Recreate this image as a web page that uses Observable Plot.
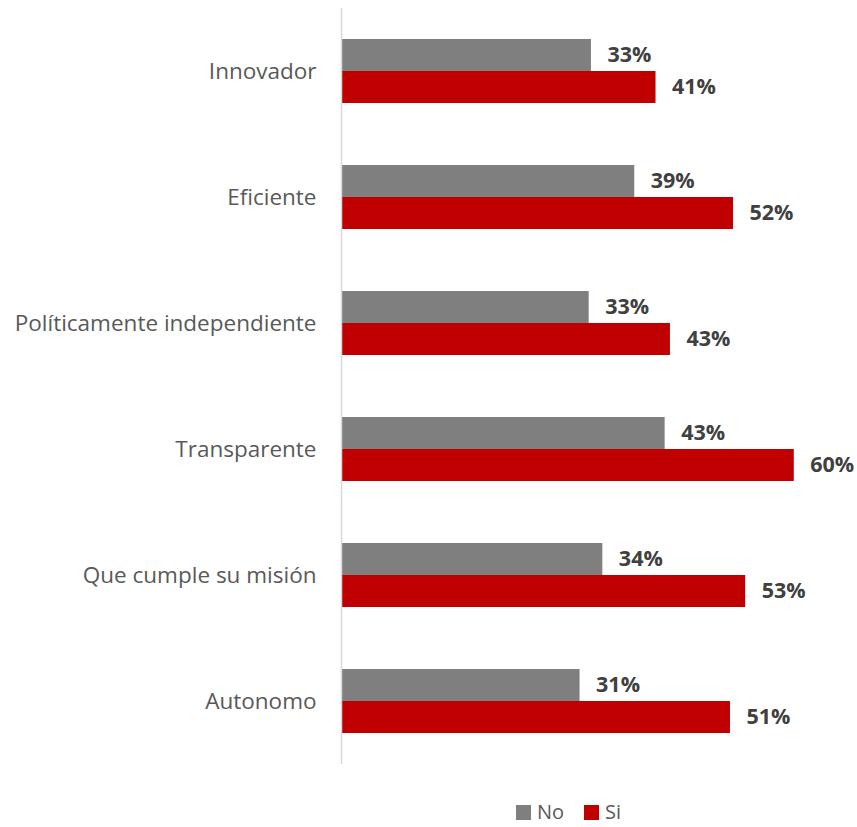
<!DOCTYPE html>
<html>
<head>
<meta charset="utf-8">
<script src="https://cdn.jsdelivr.net/npm/d3@7"></script>
<script src="https://cdn.jsdelivr.net/npm/@observablehq/plot@0.6"></script>
<style>
  body { margin: 0; background: #fff; font-family: "Open Sans", sans-serif; overflow: hidden; }
  #chart svg { display: block; }
  #legend { display: flex; justify-content: flex-start; align-items: center; font-size: 20px; line-height: 20px; height: 20px; color: #595959; margin-top: 27px; padding-left: 516px; }
  .sw { display: inline-block; width: 15px; height: 15px; margin-right: 6px; }
  .item { display: flex; align-items: center; margin-right: 20px; }
</style>
</head>
<body>
<div id="chart"></div>
<div id="legend"></div>
<script>
const categories = ["Innovador", "Eficiente", "Políticamente independiente", "Transparente", "Que cumple su misión", "Autonomo"];
const series = ["No", "Si"];
const noValues = [0.329, 0.386, 0.326, 0.426, 0.344, 0.314];
const siValues = [0.414, 0.516, 0.433, 0.596, 0.532, 0.512];
const colors = ["#7f7f7f", "#c00000"];

const data = [];
categories.forEach((c, i) => {
  data.push({category: c, series: "No", value: noValues[i]});
  data.push({category: c, series: "Si", value: siValues[i]});
});

const chart = Plot.plot({
  width: 857,
  height: 775,
  marginLeft: 341,
  marginRight: 7,
  marginTop: 7,
  marginBottom: 10,
  style: {fontFamily: "'Open Sans', sans-serif", fontSize: "22.5px", color: "#595959", overflow: "visible"},
  x: {domain: [0, 0.67], axis: null},
  y: {domain: series, axis: null, paddingInner: 0, paddingOuter: 0.9377},
  fy: {domain: categories, padding: 0, label: null, tickSize: 0, tickPadding: 25, axis: "left"},
  color: {domain: series, range: colors},
  marks: [
    Plot.barX(data, {fy: "category", y: "series", x: "value", fill: "series"}),
    Plot.text(data, {fy: "category", y: "series", x: "value", text: d => Math.round(d.value * 100) + "%", textAnchor: "start", dx: 16, fill: "#404040", fontWeight: "bold", fontSize: 21.5}),
    Plot.ruleX([0], {stroke: "#d9d9d9", strokeWidth: 1.5})
  ]
});
document.getElementById("chart").appendChild(chart);

const legend = document.getElementById("legend");
series.forEach((s, i) => {
  const item = document.createElement("span");
  item.className = "item";
  const sw = document.createElement("span");
  sw.className = "sw";
  sw.style.background = colors[i];
  item.appendChild(sw);
  item.appendChild(document.createTextNode(s));
  legend.appendChild(item);
});
</script>
</body>
</html>
